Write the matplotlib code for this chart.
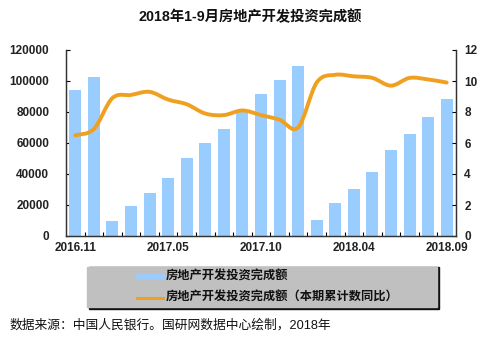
import numpy as np
import matplotlib
matplotlib.use("Agg")
import matplotlib.pyplot as plt
from matplotlib.path import Path
from matplotlib.patches import PathPatch, Rectangle
from matplotlib.lines import Line2D

plt.rcParams['font.family'] = ['Liberation Sans', 'Noto Sans CJK SC', 'DejaVu Sans']

# 月份（1月与2月合并）
months = ['2016.11', '2016.12', '2017.02', '2017.03', '2017.04', '2017.05',
          '2017.06', '2017.07', '2017.08', '2017.09', '2017.10', '2017.11',
          '2017.12', '2018.02', '2018.03', '2018.04', '2018.05', '2018.06',
          '2018.07', '2018.08', '2018.09']
# 房地产开发投资完成额（亿元，累计）
invest = [93931, 102581, 9478, 19292, 27732, 37478, 50610, 59761, 69242,
          80644, 91433, 100387, 109799, 10429, 21286, 30592, 41349, 55531,
          65776, 76519, 88248]
# 本期累计数同比（%）
yoy = [6.5, 6.9, 8.9, 9.1, 9.3, 8.8, 8.5, 7.9, 7.8, 8.1, 7.8, 7.5, 7.0,
       9.9, 10.4, 10.3, 10.2, 9.7, 10.2, 10.1, 9.9]
shown_labels = ['2016.11', '2017.05', '2017.10', '2018.04', '2018.09']

bar_color = '#99CCFF'
line_color = '#F0A020'
W, H = 500, 345


def fx(px):
    return px / W


def fy(py):
    return 1 - py / H


def smooth_path(xs, ys):
    # 平滑折线：Catmull-Rom 转三次贝塞尔
    pts = np.column_stack([xs, ys]).astype(float)
    verts = [pts[0]]
    codes = [Path.MOVETO]
    n = len(pts)
    for i in range(n - 1):
        p0 = pts[max(i - 1, 0)]
        p1 = pts[i]
        p2 = pts[i + 1]
        p3 = pts[min(i + 2, n - 1)]
        c1 = p1 + (p2 - p0) / 6
        c2 = p2 - (p3 - p1) / 6
        verts += [c1, c2, p2]
        codes += [Path.CURVE4] * 3
    return Path(verts, codes)


fig = plt.figure(figsize=(5, 3.45), dpi=100)
ax = fig.add_axes([fx(66), fy(236), fx(456) - fx(66), fy(50) - fy(236)])
ax2 = ax.twinx()

x = np.arange(len(months))
ax.bar(x, invest, width=0.65, color=bar_color, zorder=2)
ax.set_xlim(-0.5, len(months) - 0.5)
ax.set_ylim(0, 120000)
ax.set_yticks(np.arange(0, 120001, 20000))

ax2.add_patch(PathPatch(smooth_path(x, yoy), fill=False, edgecolor=line_color,
                        lw=2.8, capstyle='round', joinstyle='round'))
ax2.set_ylim(0, 12)
ax2.set_yticks(np.arange(0, 13, 2))
ax2.set_xlim(-0.5, len(months) - 0.5)

ax.set_xticks([months.index(m) for m in shown_labels])
ax.set_xticklabels(shown_labels)
ax.set_xticks(np.arange(0.5, len(months) - 0.5, 1), minor=True)
ax.tick_params(axis='x', which='major', length=0, pad=4)
ax.tick_params(axis='x', which='minor', direction='in', length=3, width=0.8)
ax.tick_params(axis='y', direction='in', length=3, width=0.8, pad=12)
ax2.tick_params(axis='y', direction='in', length=3, width=0.8, pad=6)

for a in (ax, ax2):
    a.spines['top'].set_visible(False)
    for s in ('left', 'right', 'bottom'):
        a.spines[s].set_color('#333333')
        a.spines[s].set_linewidth(0.9)
    for lab in a.get_xticklabels() + a.get_yticklabels():
        lab.set_fontsize(8.5)
        lab.set_fontweight('bold')
        lab.set_color('#222222')

fig.text(0.5, fy(17), '2018年1-9月房地产开发投资完成额', ha='center', va='center',
         fontsize=10.3, fontweight='bold', color='#111111')

# 图例框（带阴影）
fig.patches.append(Rectangle((fx(89), fy(309)), fx(439) - fx(89), fy(267) - fy(309),
                             transform=fig.transFigure, color='#111111', zorder=1))
fig.patches.append(Rectangle((fx(87), fy(307)), fx(437) - fx(87), fy(267) - fy(307),
                             transform=fig.transFigure, color='#C0C0C0', zorder=2))
fig.lines.append(Line2D([fx(139), fx(163)], [fy(277), fy(277)], transform=fig.transFigure,
                        color=bar_color, lw=4, zorder=3))
fig.lines.append(Line2D([fx(137), fx(163)], [fy(298), fy(298)], transform=fig.transFigure,
                        color=line_color, lw=2.2, zorder=3))
fig.text(fx(166), fy(277), '房地产开发投资完成额', ha='left', va='center',
         fontsize=8.8, fontweight='bold', color='#111111', zorder=4)
fig.text(fx(166), fy(298), '房地产开发投资完成额（本期累计数同比）', ha='left', va='center',
         fontsize=8.8, fontweight='bold', color='#111111', zorder=4)

fig.text(fx(10), fy(325), '数据来源：中国人民银行。国研网数据中心绘制，2018年', ha='left',
         va='center', fontsize=9.2, color='#111111')

fig.savefig('out.png', dpi=100, facecolor='white')
